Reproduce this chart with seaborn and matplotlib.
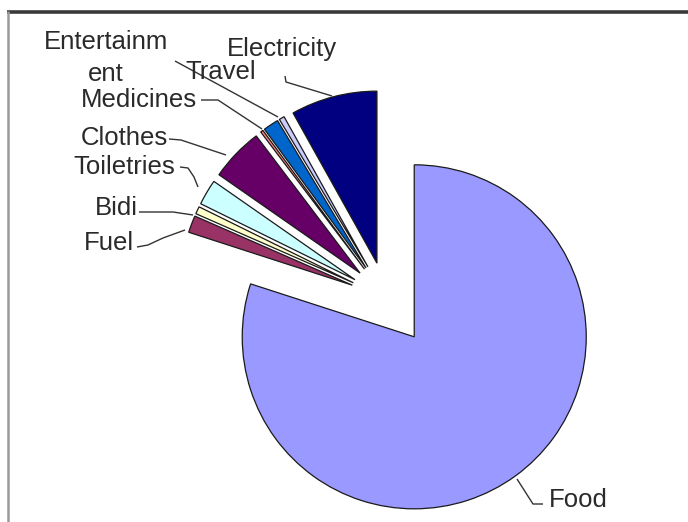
import matplotlib
matplotlib.use("Agg")
import matplotlib.pyplot as plt
import seaborn as sns

# ---- data ----
categories = ["Food", "Fuel", "Bidi", "Toiletries", "Clothes",
              "Entertainment", "Medicines", "Travel", "Electricity"]
shares = [79.9, 1.6, 0.7, 2.4, 5.0, 0.25, 1.45, 0.5, 8.1]
label_texts = ["Food", "Fuel", "Bidi", "Toiletries", "Clothes",
               "Entertainm\nent", "Medicines", "Travel", "Electricity"]
slice_colors = ["#9999FF", "#993366", "#FFFFCC", "#CCFFFF", "#660066",
                "#FF8080", "#0066CC", "#CCCCFF", "#000080"]

# ---- layout (pixel space, y measured from top) ----
W, H = 688, 522
center_px = (386, 298)
radius_px = 172
explode_px = [48, 36, 36, 36, 36, 36, 36, 36, 36]

label_pos = {
    "Food": (578, 500),
    "Fuel": (109, 243),
    "Bidi": (116, 208),
    "Toiletries": (124, 167),
    "Clothes": (124, 138),
    "Entertainment": (106, 58),
    "Medicines": (139, 100),
    "Travel": (221, 72),
    "Electricity": (282, 49),
}
leader_px = {
    "Food": [(517, 479), (533, 504), (543, 504)],
    "Fuel": [(137, 247), (148, 245), (163, 238), (185, 230)],
    "Bidi": [(139, 212), (173, 212), (193, 215)],
    "Toiletries": [(180, 167), (188, 168), (194, 177), (198, 187)],
    "Clothes": [(169, 139), (181, 140), (226, 155)],
    "Medicines": [(201, 100), (218, 100), (262, 129)],
    "Travel": [(175, 61), (278, 117)],
    "Electricity": [(285, 76), (286, 82), (332, 96)],
}


def fy(y):
    return H - y


sns.set_theme(style="white")
plt.rcParams["font.family"] = ["Liberation Sans", "DejaVu Sans"]

fig = plt.figure(figsize=(W / 100, H / 100), dpi=100)
fig.patch.set_facecolor("white")
ax = fig.add_axes([0, 0, 1, 1])

palette = sns.color_palette(slice_colors)
ax.pie(shares, colors=palette, startangle=90, counterclock=False,
       explode=explode_px, radius=radius_px,
       center=(center_px[0], fy(center_px[1])),
       wedgeprops=dict(edgecolor="#1a1a1a", linewidth=0.9),
       frame=True)

ax.set_xlim(0, W)
ax.set_ylim(0, H)
ax.set_aspect("equal")
ax.axis("off")

for cat, txt in zip(categories, label_texts):
    x, y = label_pos[cat]
    ax.text(x, fy(y), txt, ha="center", va="center", fontsize=18.5,
            color="#2a2a2a", linespacing=1.4)
    if cat in leader_px:
        pts = leader_px[cat]
        ax.plot([p[0] for p in pts], [fy(p[1]) for p in pts],
                color="#333333", lw=1.0, solid_capstyle="butt")

# chart-area border (top dark, left gray)
ax.plot([7, W], [fy(11.5), fy(11.5)], color="#3a3a3a", lw=2.6,
        solid_capstyle="butt", clip_on=False)
ax.plot([7.5, 7.5], [fy(11), 0], color="#9a9a9a", lw=1.8,
        solid_capstyle="butt", clip_on=False)

fig.savefig("out.png", dpi=100, facecolor="white")
